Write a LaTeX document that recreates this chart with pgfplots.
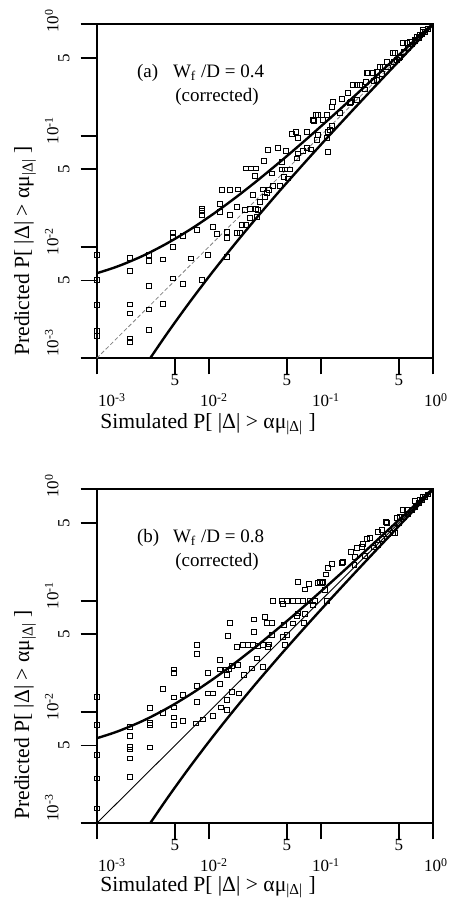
\documentclass[border=0pt]{standalone}
\usepackage{pgfplots}
\pgfplotsset{compat=1.18}
\usepackage{fontspec}
\setmainfont{Liberation Serif}

\newcommand{\dec}[1]{10\rlap{\textsuperscript{#1}}}
\newcommand{\lab}{P[ |Δ| > αμ\textsubscript{|Δ|} ]}

\begin{document}
\begin{tikzpicture}
\path[use as bounding box] (0,0) rectangle (226pt,-452.5pt);

% ---------------- panel (a)
\begin{axis}[xmode=log, ymode=log,
    scale only axis, width=168pt, height=167pt,
    xmin=1e-3, xmax=1, ymin=1e-3, ymax=1,
    axis line style={line width=0.9pt},
    tick align=outside, tick pos=left,
    major tick length=8pt,
    major tick style={line width=0.9pt, black},
    xminorticks=false, yminorticks=false,
    xtick={0.001,0.01,0.1,1},
    ytick={0.001,0.01,0.1,1},
    xticklabels={\hspace*{10pt}\dec{-3},\dec{-2},\dec{-1},\dec{0}},
    yticklabels={\hspace*{10pt}\dec{-3},\dec{-2},\dec{-1},\dec{0}},
    extra x ticks={0.005,0.05,0.5},
    extra x tick labels={5,5,5},
    extra y ticks={0.005,0.05,0.5},
    extra y tick labels={5,5,5},
    tick label style={font=\fontsize{8.5}{9}\selectfont},
    xticklabel style={anchor=north, yshift=-6pt},
    yticklabel style={rotate=90, anchor=south, yshift=7.5pt},
    extra x tick style={xticklabel style={yshift=9.5pt}},
    extra y tick style={yticklabel style={yshift=-5.5pt}},
    at={(48.35pt,-179.15pt)}, anchor=south west]
\addplot[gray, line width=0.4pt, dash pattern=on 2pt off 1.2pt] coordinates {(0.001,0.001) (1,1)};
\addplot[black, line width=1.2pt, smooth] coordinates {(0.000997,0.0058)(0.0013565,0.0064)(0.001727,0.007)(0.0023658,0.008)(0.003027,0.009)(0.0040532,0.0105)(0.005113,0.012)(0.0065693,0.014)(0.008064,0.016)(0.011146,0.02)(0.0151258,0.025)(0.019211,0.03)(0.027607,0.04)(0.04498,0.06)(0.062842,0.08)(0.081026,0.1)(0.127417,0.15)(0.174702,0.2)(0.271017,0.3)(0.369016,0.4)(0.468377,0.5)(0.569016,0.6)(0.671017,0.7)(0.774702,0.8)(0.881026,0.9)(0.936216,0.95)(1,1)};
\addplot[black, line width=1.2pt, smooth] coordinates {(0.002999,0.001)(0.0039477,0.0015)(0.0048256,0.002)(0.0064589,0.003)(0.009461,0.005)(0.012273,0.007)(0.016293,0.01)(0.022688,0.015)(0.028854,0.02)(0.040789,0.03)(0.052393,0.04)(0.07502,0.06)(0.097158,0.08)(0.118974,0.1)(0.172583,0.15)(0.225298,0.2)(0.328983,0.3)(0.430984,0.4)(0.531623,0.5)(0.630984,0.6)(0.728983,0.7)(0.825298,0.8)(0.918974,0.9)(0.963784,0.95)(1,1)};
\addplot[only marks, mark=square, mark size=1.2pt, mark options={line width=0.45pt, black, solid}] coordinates {
(0.001,0.00846)(0.001,0.00504)(0.001,0.00303)(0.001,0.00176)(0.001,0.0016)
(0.00198,0.0080)(0.00198,0.00611)(0.00198,0.00305)(0.00198,0.00253)(0.00198,0.00151)(0.00198,0.00141)
(0.00293,0.00846)(0.00293,0.00747)(0.00293,0.00448)(0.00293,0.00275)(0.00293,0.00179)
(0.00393,0.00774)(0.00393,0.00307)
(0.00483,0.0133)(0.00483,0.0124)(0.00483,0.0100)(0.00483,0.00522)
(0.00586,0.0125)(0.00586,0.00464)
(0.0069,0.0079)(0.00782,0.0142)
(0.00866,0.0222)(0.00866,0.0210)(0.00866,0.0193)(0.00866,0.00504)
(0.00991,0.00846)(0.01086,0.0152)(0.01178,0.0131)
(0.01262,0.0243)(0.01262,0.0207)(0.01306,0.0324)
(0.01549,0.0324)(0.01549,0.0193)
(0.01778,0.0230)(0.01778,0.0134)(0.01837,0.0329)
(0.01466,0.0137)(0.01466,0.0120)(0.01466,0.00817)
(0.0190,0.0134)(0.01972,0.0157)
(0.02153,0.0157)(0.02153,0.0508)(0.02109,0.0215)
(0.02338,0.0181)(0.02338,0.0218)(0.02685,0.0187)
(0.02643,0.0218)(0.02643,0.0508)(0.02472,0.0293)
(0.02871,0.0255)(0.02773,0.0215)(0.02387,0.0508)(0.02588,0.0434)
(0.03133,0.0591)(0.03034,0.0329)(0.03296,0.0307)(0.03475,0.0324)(0.03184,0.0282)
(0.03365,0.0743)(0.0418,0.0769)(0.03652,0.0458)(0.03776,0.0352)
(0.04487,0.0498)(0.04487,0.0583)(0.04797,0.0498)(0.05321,0.0498)
(0.04898,0.0731)(0.04732,0.0427)(0.04335,0.0352)(0.0514,0.0413)
(0.05508,0.1034)(0.06012,0.1084)(0.0631,0.0946)(0.06109,0.0625)(0.06237,0.0693)
(0.075,0.1084)(0.075,0.0769)(0.06998,0.0731)(0.08147,0.0753)
(0.0908,0.1531)(0.0952,0.1531)(0.0952,0.1013)(0.1132,0.1531)(0.1132,0.0946)
(0.0871,0.1361)(0.0921,0.0913)(0.1169,0.1084)(0.1169,0.0717)
(0.0859,0.1381)(0.1054,0.1381)(0.1211,0.1123)(0.1253,0.1220)(0.1253,0.1796)
(0.1296,0.2016)(0.154,0.2119)(0.1486,0.1586)(0.1762,0.2399)(0.1827,0.1951)
(0.1866,0.2016)(0.1954,0.2848)(0.2094,0.2089)(0.2094,0.2848)(0.2244,0.2848)
(0.2661,0.3629)(0.2535,0.3050)(0.2576,0.3674)(0.2951,0.3629)
(0.3162,0.3751)(0.3162,0.3159)(0.3385,0.4159)(0.3622,0.4159)(0.3882,0.4613)
(0.4446,0.5486)(0.4603,0.5486)(0.4775,0.4777)(0.5105,0.5114)
(0.5465,0.675)(0.5861,0.675)(0.6266,0.698)(0.6494,0.698)(0.695,0.723)
(0.7194,0.774)(0.7709,0.801)(0.8241,0.858)(0.8241,0.889)
(0.25,0.26)(0.3,0.31)(0.35,0.36)(0.4,0.41)(0.45,0.46)(0.5,0.5)(0.55,0.56)
(0.6,0.61)(0.65,0.66)(0.7,0.71)(0.75,0.76)(0.8,0.81)(0.85,0.86)(0.9,0.91)
};
\node[anchor=base west, inner sep=0pt, font=\fontsize{9.5}{11}\selectfont] at (axis description cs:0.119,0.842) {(a)};
\node[anchor=base west, inner sep=0pt, font=\fontsize{9.5}{11}\selectfont] at (axis description cs:0.226,0.842) {W\textsubscript{f} /D = 0.4};
\node[anchor=base west, inner sep=0pt, font=\fontsize{9.5}{11}\selectfont] at (axis description cs:0.233,0.770) {(corrected)};
\end{axis}

% ---------------- panel (b)
\begin{axis}[xmode=log, ymode=log,
    scale only axis, width=168pt, height=167pt,
    xmin=1e-3, xmax=1, ymin=1e-3, ymax=1,
    axis line style={line width=0.9pt},
    tick align=outside, tick pos=left,
    major tick length=8pt,
    major tick style={line width=0.9pt, black},
    xminorticks=false, yminorticks=false,
    xtick={0.001,0.01,0.1,1},
    ytick={0.001,0.01,0.1,1},
    xticklabels={\hspace*{10pt}\dec{-3},\dec{-2},\dec{-1},\dec{0}},
    yticklabels={\hspace*{10pt}\dec{-3},\dec{-2},\dec{-1},\dec{0}},
    extra x ticks={0.005,0.05,0.5},
    extra x tick labels={5,5,5},
    extra y ticks={0.005,0.05,0.5},
    extra y tick labels={5,5,5},
    tick label style={font=\fontsize{8.5}{9}\selectfont},
    xticklabel style={anchor=north, yshift=-6pt},
    yticklabel style={rotate=90, anchor=south, yshift=7.5pt},
    extra x tick style={xticklabel style={yshift=9.5pt}},
    extra y tick style={yticklabel style={yshift=-5.5pt}},
    at={(48.35pt,-411.65pt)}, anchor=south west]
\addplot[black, line width=0.45pt] coordinates {(0.001,0.001) (1,1)};
\addplot[black, line width=1.2pt, smooth] coordinates {(0.000997,0.0058)(0.0013565,0.0064)(0.001727,0.007)(0.0023658,0.008)(0.003027,0.009)(0.0040532,0.0105)(0.005113,0.012)(0.0065693,0.014)(0.008064,0.016)(0.011146,0.02)(0.0151258,0.025)(0.019211,0.03)(0.027607,0.04)(0.04498,0.06)(0.062842,0.08)(0.081026,0.1)(0.127417,0.15)(0.174702,0.2)(0.271017,0.3)(0.369016,0.4)(0.468377,0.5)(0.569016,0.6)(0.671017,0.7)(0.774702,0.8)(0.881026,0.9)(0.936216,0.95)(1,1)};
\addplot[black, line width=1.2pt, smooth] coordinates {(0.002999,0.001)(0.0039477,0.0015)(0.0048256,0.002)(0.0064589,0.003)(0.009461,0.005)(0.012273,0.007)(0.016293,0.01)(0.022688,0.015)(0.028854,0.02)(0.040789,0.03)(0.052393,0.04)(0.07502,0.06)(0.097158,0.08)(0.118974,0.1)(0.172583,0.15)(0.225298,0.2)(0.328983,0.3)(0.430984,0.4)(0.531623,0.5)(0.630984,0.6)(0.728983,0.7)(0.825298,0.8)(0.918974,0.9)(0.963784,0.95)(1,1)};
\addplot[only marks, mark=square, mark size=1.2pt, mark options={line width=0.45pt, black, solid}] coordinates {
(0.001,0.0137)(0.001,0.00762)(0.001,0.0041)(0.001,0.00253)(0.001,0.00136)
(0.00198,0.00736)(0.00198,0.00607)(0.00198,0.00487)(0.00198,0.00461)(0.00198,0.00383)(0.00198,0.00262)
(0.00299,0.0108)(0.00299,0.0080)(0.00299,0.00762)(0.00299,0.00481)
(0.00393,0.00983)(0.00393,0.0160)
(0.0049,0.0110)(0.0049,0.00894)(0.0049,0.00762)(0.0049,0.0135)(0.0049,0.0241)(0.0049,0.0225)
(0.00593,0.0142)(0.00593,0.00834)
(0.00782,0.0124)(0.00782,0.0399)(0.00782,0.0331)(0.00782,0.0171)
(0.0077,0.0079)(0.00883,0.00858)
(0.00991,0.0225)(0.00991,0.0147)
(0.01086,0.0147)(0.01086,0.00918)
(0.01262,0.0293)(0.01262,0.0241)(0.01262,0.0178)(0.0128,0.0110)
(0.01478,0.0481)(0.01549,0.0633)(0.01427,0.0238)(0.01527,0.0241)
(0.01466,0.0216)(0.01466,0.0128)(0.01466,0.0104)
(0.01605,0.0258)(0.01605,0.0152)(0.01837,0.0264)(0.01876,0.0147)
(0.01778,0.0385)(0.02037,0.0399)(0.02258,0.0399)(0.025,0.0399)(0.02773,0.0391)
(0.02716,0.0303)(0.02538,0.0679)(0.02538,0.0525)
(0.03184,0.0717)(0.03296,0.0633)(0.03652,0.0633)(0.03652,0.0491)
(0.03034,0.0399)(0.03404,0.0385)(0.02449,0.0246)(0.03073,0.0252)(0.02066,0.0215)
(0.03725,0.0998)(0.04487,0.0998)(0.04966,0.0998)(0.05689,0.0998)(0.0631,0.0998)(0.06998,0.0998)(0.0802,0.0998)(0.0889,0.0998)
(0.04634,0.0932)(0.04634,0.0474)(0.04797,0.0399)(0.04699,0.0604)
(0.05689,0.0625)(0.0618,0.0727)(0.07096,0.0633)(0.07244,0.0758)(0.0859,0.0913)
(0.0631,0.1478)(0.0791,0.1410)(0.07244,0.1263)
(0.0952,0.1448)(0.1021,0.1448)(0.1092,0.1245)(0.1132,0.0998)
(0.1115,0.1722)(0.1169,0.1975)(0.1253,0.2119)
(0.154,0.2163)(0.1591,0.2236)(0.1853,0.2750)(0.2094,0.2988)(0.2323,0.3050)
(0.2024,0.2480)(0.2371,0.3205)(0.2754,0.3673)(0.3268,0.4159)(0.3504,0.4308)
(0.3829,0.5052)(0.4446,0.4024)(0.4775,0.5486)(0.5105,0.5673)(0.5861,0.6516)
(0.695,0.785)(0.7709,0.801)(0.8241,0.858)(0.2575,0.3554)(0.3882,0.5010)
(0.4603,0.4024)(0.5465,0.6516)(0.3268,0.3159)(0.0986,0.1478)(0.1042,0.1460)
(0.03453,0.0405)(0.04966,0.0491)(0.0631,0.0769)
(0.2,0.21)(0.25,0.25)(0.3,0.3)(0.35,0.36)(0.4,0.4)(0.45,0.45)(0.5,0.5)(0.55,0.56)
(0.6,0.6)(0.65,0.65)(0.7,0.7)(0.75,0.75)(0.8,0.8)(0.85,0.85)(0.9,0.9)
};
\node[anchor=base west, inner sep=0pt, font=\fontsize{9.5}{11}\selectfont] at (axis description cs:0.119,0.842) {(b)};
\node[anchor=base west, inner sep=0pt, font=\fontsize{9.5}{11}\selectfont] at (axis description cs:0.226,0.842) {W\textsubscript{f} /D = 0.8};
\node[anchor=base west, inner sep=0pt, font=\fontsize{9.5}{11}\selectfont] at (axis description cs:0.233,0.770) {(corrected)};
\end{axis}

% axis labels
\node[rotate=90, font=\fontsize{10.8}{12}\selectfont] at (12.5pt,-125.5pt) {Predicted \lab};
\node[font=\fontsize{10.8}{12}\selectfont] at (104pt,-212pt) {Simulated \lab};
\node[rotate=90, font=\fontsize{10.8}{12}\selectfont] at (12.5pt,-357.5pt) {Predicted \lab};
\node[font=\fontsize{10.8}{12}\selectfont] at (104pt,-443.5pt) {Simulated \lab};
\end{tikzpicture}
\end{document}
